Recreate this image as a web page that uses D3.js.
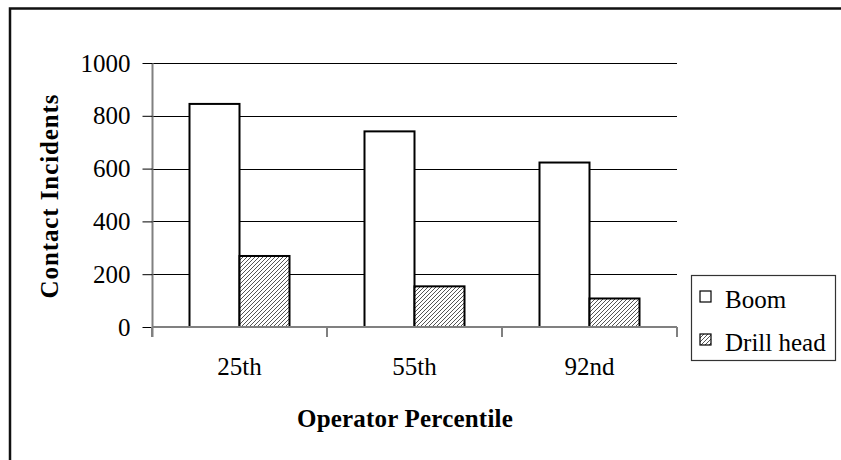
<!DOCTYPE html>
<html><head><meta charset="utf-8">
<script src="https://cdn.jsdelivr.net/npm/d3@7"></script>
<style>html,body{margin:0;padding:0;background:#fff;}svg{display:block;}</style>
</head><body>
<svg id="c" width="841" height="460"></svg>
<script>
const categories = ["25th", "55th", "92nd"];
const seriesNames = ["Boom", "Drill head"];
const boomValues = [845, 741, 623];
const drillValues = [269, 154, 108];
const yTicks = [0, 200, 400, 600, 800, 1000];
const xTitle = "Operator Percentile";
const yTitle = "Contact Incidents";

(function(){
const svg = d3.select("#c");
const font = "'Liberation Serif','Times New Roman',serif";
const pL = 152, pR = 677, pT = 63, pB = 327;

const defs = svg.append("defs");
const pat = defs.append("pattern").attr("id","hatch").attr("patternUnits","userSpaceOnUse")
  .attr("width",4).attr("height",4);
pat.append("rect").attr("width",4).attr("height",4).attr("fill","#fff");
pat.append("path").attr("d","M-1,1 l2,-2 M0,4 l4,-4 M3,5 l2,-2").attr("stroke","#555").attr("stroke-width",1);

// outer border
svg.append("rect").attr("x",10).attr("y",8.5).attr("width",900).attr("height",600)
  .attr("fill","none").attr("stroke","#111").attr("stroke-width",2.5);

const y = d3.scaleLinear().domain([0,1000]).range([pB, pT]);
const x0 = d3.scaleBand().domain(categories).range([pL, pR]);
const x1 = d3.scaleBand().domain(seriesNames).range([0, x0.bandwidth()]).paddingOuter(0.75);

// gridlines
svg.append("g").selectAll("line").data(yTicks.filter(d=>d>0)).join("line")
  .attr("x1",pL).attr("x2",pR).attr("y1",d=>Math.round(y(d))+0.5).attr("y2",d=>Math.round(y(d))+0.5)
  .attr("stroke","#000").attr("stroke-width",1);

// y axis
const yAxis = svg.append("g").attr("transform",`translate(${pL+0.5},0)`)
  .call(d3.axisLeft(y).tickValues(yTicks).tickFormat(d3.format("d")).tickSize(10).tickPadding(12));
yAxis.select(".domain").attr("stroke","#808080").attr("stroke-width",2).attr("d",`M0,${pT}V${pB+10}`);
yAxis.selectAll(".tick line").attr("stroke","#000");
yAxis.selectAll(".tick text").attr("font-family",font).attr("font-size",25).attr("fill","#000");

// bars
const data = categories.map((c,i)=>({cat:c, vals:[boomValues[i], drillValues[i]]}));
const g = svg.append("g");
const groups = g.selectAll("g").data(data).join("g").attr("transform",d=>`translate(${x0(d.cat)},0)`);
groups.selectAll("rect").data(d=>d.vals.map((v,j)=>({s:seriesNames[j], v}))).join("rect")
  .attr("x",d=>x1(d.s)).attr("width",x1.bandwidth())
  .attr("y",d=>y(d.v)).attr("height",d=>y(0)-y(d.v))
  .attr("fill",d=>d.s==="Boom"?"#fff":"url(#hatch)")
  .attr("stroke","#000").attr("stroke-width",2);

// x axis
const xAxis = svg.append("g").attr("transform",`translate(0,${pB})`)
  .call(d3.axisBottom(x0).tickSize(0).tickPadding(30));
xAxis.select(".domain").attr("stroke","#808080").attr("stroke-width",2).attr("d",`M${pL},0H${pR}`);
xAxis.selectAll(".tick text").attr("font-family",font).attr("font-size",25).attr("fill","#000");
// category separator ticks
svg.append("g").selectAll("line").data(categories.concat(["end"])).join("line")
  .attr("x1",(d,i)=>pL + i*x0.bandwidth()).attr("x2",(d,i)=>pL + i*x0.bandwidth())
  .attr("y1",pB).attr("y2",pB+10).attr("stroke","#808080").attr("stroke-width",2);

// titles
svg.append("text").attr("x",405).attr("y",427).attr("text-anchor","middle")
  .attr("font-family",font).attr("font-size",25).attr("font-weight","bold").attr("letter-spacing",0.2).text(xTitle);
svg.append("text").attr("transform",`translate(58,${(pT+pB)/2+1}) rotate(-90)`).attr("text-anchor","middle")
  .attr("font-family",font).attr("font-size",25).attr("font-weight","bold").attr("letter-spacing",0.9).text(yTitle);

// legend
const lg = svg.append("g");
lg.append("rect").attr("x",691.5).attr("y",275.5).attr("width",144).attr("height",85)
  .attr("fill","#fff").attr("stroke","#333").attr("stroke-width",1.2);
const items = lg.selectAll("g").data(seriesNames).join("g")
  .attr("transform",(d,i)=>`translate(700,${291 + i*43})`);
items.append("rect").attr("width",11).attr("height",11)
  .attr("fill",d=>d==="Boom"?"#fff":"url(#hatch)").attr("stroke","#000").attr("stroke-width",1.2);
items.append("text").attr("x",25).attr("y",17).attr("font-family",font).attr("font-size",25).text(d=>d);
})();
</script>
</body></html>
